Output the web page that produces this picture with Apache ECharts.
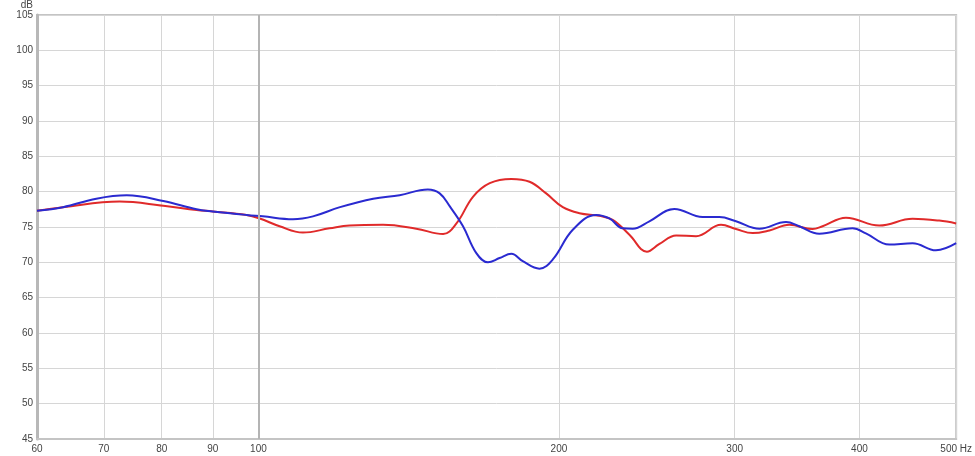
<!DOCTYPE html>
<html>
<head>
<meta charset="utf-8">
<script src="https://cdn.jsdelivr.net/npm/echarts@6/dist/echarts.min.js"></script>
<style>
html,body{margin:0;padding:0;background:#fff;}
#chart{width:975px;height:456px;}
</style>
</head>
<body>
<div id="chart"></div>
<script>
// Frequency tick labels (Hz)
const xTicks = [60, 70, 80, 90, 100, 200, 300, 400, 500];
// Red trace
const redFreq = [60, 63.7, 72.6, 80.3, 86.7, 90, 97.3, 100.3, 105, 110.8, 117.8, 123.4, 133.3, 143.9, 153.1, 157.9, 164.1, 170.5, 179.2, 186.9, 194.2, 201.8, 209.7, 219.6, 226.4, 235.3, 245, 252.2, 262.1, 274.4, 290.7, 300.9, 312.7, 325, 340.3, 359, 367.4, 387.8, 418.7, 452.2, 480.8, 500];
const redDb   = [77.3, 77.8, 78.6, 78.0, 77.4, 77.2, 76.7, 76.2, 75.1, 74.2, 74.8, 75.2, 75.3, 74.75, 74.0, 75.5, 79.3, 81.2, 81.8, 81.4, 79.75, 77.8, 76.95, 76.57, 76.0, 73.9, 71.5, 72.6, 73.8, 73.7, 75.3, 74.7, 74.13, 74.5, 75.3, 74.7, 75.1, 76.3, 75.2, 76.15, 75.9, 75.5];
// Blue trace
const blueFreq = [60, 63.7, 68.8, 73.8, 80.3, 86.7, 90, 97.3, 101, 108.3, 113.4, 120.7, 130.3, 138.5, 147.8, 151.9, 155.5, 160.3, 165.3, 169.8, 174.4, 179.2, 184, 191.2, 197.2, 206.5, 217.9, 224.7, 231.7, 237.1, 246.4, 261, 278.6, 289.6, 300.9, 317.6, 337.7, 348.2, 364.6, 393.7, 406, 428.5, 452.2, 477.2, 500];
const blueDb   = [77.3, 77.8, 79.0, 79.47, 78.68, 77.5, 77.2, 76.7, 76.5, 76.1, 76.5, 77.8, 79.0, 79.5, 80.3, 79.75, 77.9, 75.1, 71.3, 70.0, 70.6, 71.2, 70.15, 69.1, 70.4, 74.6, 76.7, 76.2, 74.8, 74.75, 75.8, 77.55, 76.4, 76.4, 75.8, 74.75, 75.7, 75.1, 74.05, 74.8, 74.1, 72.5, 72.7, 71.7, 72.7];

const pairs = (xs, ys) => xs.map((x, i) => [x, ys[i]]);

const chart = echarts.init(document.getElementById('chart'), null, {renderer: 'canvas'});
const font = 'Liberation Sans, Arial, sans-serif';
chart.setOption({
  animation: false,
  backgroundColor: '#ffffff',
  grid: {left: 37, right: 18, top: 12, bottom: 17, show: true, borderColor: '#c4c4c4', borderWidth: 2},
  xAxis: {
    type: 'log', logBase: 10, min: 60, max: 500,
    axisLine: {show: true, onZero: false, lineStyle: {color: '#c4c4c4', width: 2}},
    axisTick: {show: false, customValues: xTicks},
    axisLabel: {customValues: xTicks, color: '#444', fontSize: 10, fontFamily: font, margin: 5,
      formatter: v => (Math.round(v) === 500 ? '500 Hz' : String(Math.round(v)))},
    splitLine: {show: true, lineStyle: {color: '#d6d6d6', width: 1}},
    minorSplitLine: {show: false}
  },
  yAxis: {
    type: 'value', min: 45, max: 105, interval: 5,
    name: 'dB', nameLocation: 'end', nameGap: 1,
    nameTextStyle: {color: '#444', fontSize: 10, fontFamily: font, align: 'right', padding: [0, 4, 0, 0]},
    axisLine: {show: true, lineStyle: {color: '#b8b8b8', width: 3}},
    axisTick: {show: false},
    axisLabel: {color: '#444', fontSize: 10, fontFamily: font, margin: 4},
    splitLine: {show: true, lineStyle: {color: '#d6d6d6', width: 1}}
  },
  series: [
    {
      type: 'line', name: 'red', data: pairs(redFreq, redDb), smooth: 0.4, showSymbol: false,
      lineStyle: {color: '#e02a2a', width: 2}, z: 3,
      markLine: {silent: true, symbol: 'none', label: {show: false},
        lineStyle: {color: '#b4b4b4', width: 2, type: 'solid'}, data: [{xAxis: 100}]}
    },
    {
      type: 'line', name: 'blue', data: pairs(blueFreq, blueDb), smooth: 0.4, showSymbol: false,
      lineStyle: {color: '#2a2ad0', width: 2}, z: 4
    }
  ]
});
</script>
</body>
</html>
